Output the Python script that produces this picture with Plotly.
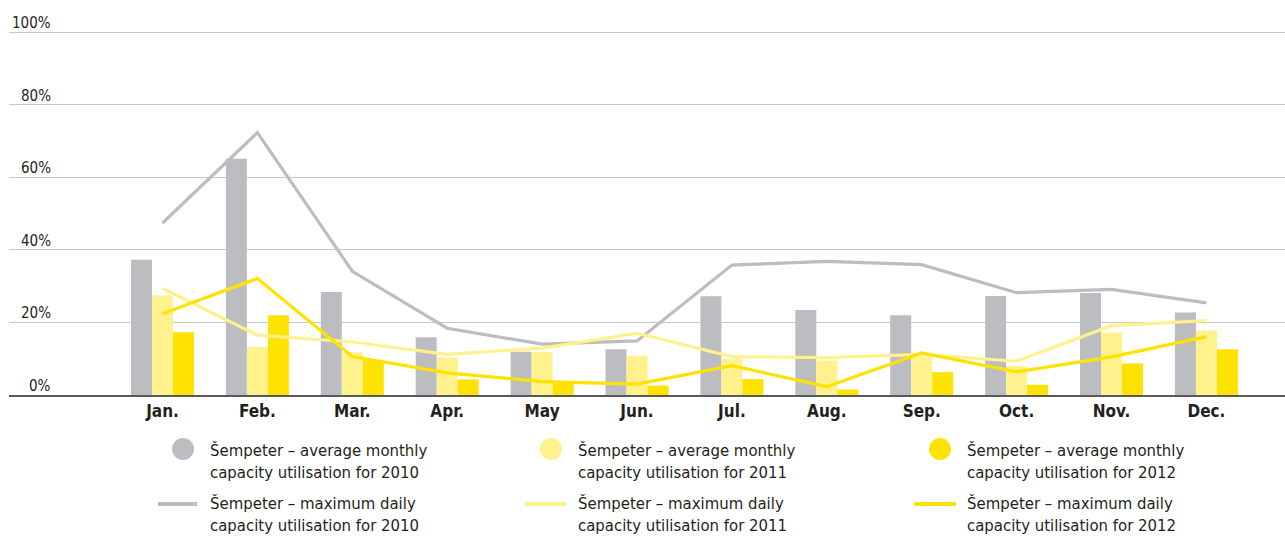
import plotly.graph_objects as go

# Monthly capacity utilisation at Šempeter (%)
months = ["Jan.", "Feb.", "Mar.", "Apr.", "May", "Jun.", "Jul.", "Aug.", "Sep.", "Oct.", "Nov.", "Dec."]

avg_2010 = [37.3, 65.1, 28.4, 15.9, 11.9, 12.6, 27.2, 23.4, 22.0, 27.3, 28.1, 22.7]
avg_2011 = [27.5, 13.2, 11.8, 10.3, 11.9, 10.8, 10.0, 9.5, 10.6, 8.0, 17.2, 17.8]
avg_2012 = [17.3, 22.0, 9.6, 4.3, 3.7, 2.6, 4.4, 1.5, 6.3, 2.8, 8.7, 12.6]

max_2010 = [47.4, 72.3, 34.1, 18.4, 14.0, 14.9, 35.8, 36.8, 35.9, 28.2, 29.1, 25.4]
max_2011 = [29.4, 16.5, 14.6, 11.2, 12.9, 17.0, 10.6, 10.3, 11.2, 9.3, 19.1, 20.5]
max_2012 = [22.4, 32.1, 10.6, 6.1, 3.7, 3.0, 8.1, 2.3, 11.6, 6.4, 10.5, 16.1]

y_ticks = [0, 20, 40, 60, 80, 100]

GREY = "#bcbdc0"
PALE = "#fff18c"
YELLOW = "#ffe300"
TEXT = "#231f20"
FONT = "Liberation Sans Narrow, DejaVu Sans Condensed, sans-serif"

W, H = 1285, 539
L, R, T, B = 9, 0, 31, 144
Y_MAX = 100.3

x = list(range(len(months)))

fig = go.Figure()
for vals, col in [(avg_2010, GREY), (avg_2011, PALE), (avg_2012, YELLOW)]:
    fig.add_trace(go.Bar(x=x, y=vals, marker=dict(color=col, line=dict(width=0)),
                         showlegend=False, hoverinfo="skip"))
for vals, col in [(max_2010, GREY), (max_2011, PALE), (max_2012, YELLOW)]:
    fig.add_trace(go.Scatter(x=x, y=vals, mode="lines", line=dict(color=col, width=3.2),
                             showlegend=False, hoverinfo="skip"))

# y tick labels sit just above their gridlines, right-aligned
annotations = []
for v in y_ticks:
    annotations.append(dict(x=(53 - L) / (W - L - R), xref="paper", y=v, yref="y",
                            text=f"{v}%", showarrow=False, xanchor="right", yanchor="bottom",
                            yshift=-2, font=dict(family=FONT, size=15, color=TEXT)))

# Custom legend: circles for monthly averages, lines for daily maxima
pw, ph = W - L - R, H - T - B
def px(xp):
    return (xp - L) / pw
def py(yp):
    return (H - B - yp) / ph

legend_cols = [
    (183, 208, 158, 197, GREY, "2010"),
    (551, 576, 525, 566, PALE, "2011"),
    (940, 965, 914, 956, YELLOW, "2012"),
]
shapes = []
for cx, tx, lx0, lx1, col, yr in legend_cols:
    shapes.append(dict(type="circle", xref="paper", yref="paper",
                       x0=px(cx - 11), x1=px(cx + 11), y0=py(449 - 11), y1=py(449 + 11),
                       fillcolor=col, line=dict(width=0)))
    shapes.append(dict(type="line", xref="paper", yref="paper",
                       x0=px(lx0), x1=px(lx1), y0=py(504), y1=py(504),
                       line=dict(color=col, width=4)))
    annotations.append(dict(x=px(tx), y=py(439), xref="paper", yref="paper",
                            text=f"Šempeter – average monthly<br>capacity utilisation for {yr}",
                            showarrow=False, xanchor="left", yanchor="top", align="left",
                            font=dict(family=FONT, size=16.6, color=TEXT)))
    annotations.append(dict(x=px(tx), y=py(492), xref="paper", yref="paper",
                            text=f"Šempeter – maximum daily<br>capacity utilisation for {yr}",
                            showarrow=False, xanchor="left", yanchor="top", align="left",
                            font=dict(family=FONT, size=16.6, color=TEXT)))

fig.update_layout(
    width=W, height=H,
    margin=dict(l=L, r=R, t=T, b=B),
    plot_bgcolor="white", paper_bgcolor="white",
    barmode="group", bargap=0.336, bargroupgap=0,
    xaxis=dict(range=[-1.6175, 11.828], tickvals=x, ticktext=[f"<b>{m}</b>" for m in months],
               showgrid=False, zeroline=False, showline=True, linecolor="#58595b", linewidth=2,
               ticks="", tickfont=dict(family=FONT, size=17, color=TEXT)),
    yaxis=dict(range=[0, Y_MAX], tickvals=y_ticks, showticklabels=False,
               showgrid=True, gridcolor="#c8c8c8", gridwidth=1.3, zeroline=False),
    annotations=annotations,
    shapes=shapes,
    showlegend=False,
)

fig.write_html("out.html")
